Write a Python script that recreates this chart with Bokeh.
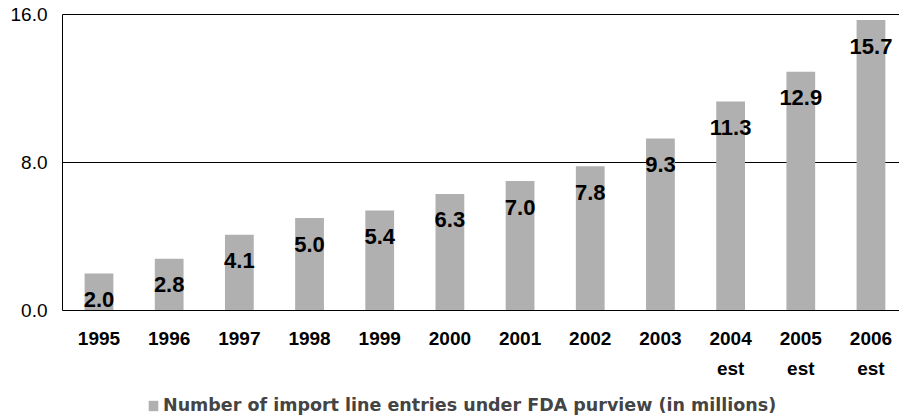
from bokeh.plotting import figure
from bokeh.models import (ColumnDataSource, FixedTicker, Legend, LegendItem, Range1d,
                          NumeralTickFormatter, LinearAxis)
from bokeh.core.properties import value
from bokeh.embed import file_html
from bokeh.resources import INLINE

years = ["1995", "1996", "1997", "1998", "1999", "2000", "2001", "2002", "2003", "2004", "2005", "2006"]
year_notes = ["", "", "", "", "", "", "", "", "", "est", "est", "est"]
entries = [2.0, 2.8, 4.1, 5.0, 5.4, 6.3, 7.0, 7.8, 9.3, 11.3, 12.9, 15.7]
value_labels = ["2.0", "2.8", "4.1", "5.0", "5.4", "6.3", "7.0", "7.8", "9.3", "11.3", "12.9", "15.7"]
y_ticks = [0, 8, 16]
grid_values = [8, 16]
series_name = "Number of import line entries under FDA purview (in millions)"

idx = list(range(len(years)))
src = ColumnDataSource(dict(x=idx, y=entries, lab=value_labels))

FONT = "Liberation Sans"

# canvas 899 x 416; plot area starts 62px from left, 14px from top, 296px tall
W, H = 899, 416
PX_X = 70.18          # pixels per category
PX_Y = 18.5           # pixels per unit
AX_X = -0.52          # x position of value axis (left edge of category area)
x0 = AX_X - 62 / PX_X
x1 = x0 + W / PX_X
y1 = 16 + 14 / PX_Y
y0 = -(H - 14 - 296) / PX_Y

p = figure(width=W, height=H, output_backend="svg", toolbar_location=None,
           x_range=Range1d(x0, x1), y_range=Range1d(y0, y1),
           min_border_left=0, min_border_top=0, min_border_right=0, min_border_bottom=0)
p.outline_line_color = None
p.background_fill_color = "white"
p.border_fill_color = "white"
p.xgrid.visible = False
p.ygrid.visible = False

# gridlines from the value axis to the right edge
p.segment(x0=AX_X, x1=x1, y0=grid_values, y1=grid_values, line_color="black", line_width=1)

r = p.vbar(x="x", top="y", width=0.41, source=src, fill_color="#B0B0B0", line_color=None)

p.text(x="x", y="y", text="lab", source=src, text_align="center", text_baseline="middle",
       y_offset=26, text_font=value(FONT), text_font_size="22px", text_font_style="bold",
       text_color="black")

# x axis (years) drawn at y = 0
xa = p.xaxis[0]
xa.fixed_location = 0
xa.bounds = (AX_X, x1)
xa.ticker = FixedTicker(ticks=idx)
xa.major_label_overrides = {i: years[i] for i in idx}
xa.major_tick_out = 0
xa.major_tick_in = 0
xa.minor_tick_out = 0
xa.minor_tick_in = 0
xa.axis_line_color = "black"
xa.major_label_text_font = FONT
xa.major_label_text_font_size = "19px"
xa.major_label_text_font_style = "bold"
xa.major_label_text_color = "black"
xa.major_label_standoff = 21

# second row of x labels ("est")
xa2 = LinearAxis(fixed_location=0, ticker=FixedTicker(ticks=idx),
                 major_label_overrides={i: year_notes[i] for i in idx},
                 major_tick_out=0, major_tick_in=0, minor_tick_out=0, minor_tick_in=0,
                 axis_line_color=None,
                 major_label_text_font=FONT, major_label_text_font_size="19px",
                 major_label_text_font_style="bold", major_label_text_color="black",
                 major_label_standoff=47)
p.add_layout(xa2, "below")

ya = p.yaxis[0]
ya.fixed_location = AX_X
ya.bounds = (0, 16)
ya.ticker = FixedTicker(ticks=y_ticks)
ya.formatter = NumeralTickFormatter(format="0.0")
ya.major_tick_out = 0
ya.major_tick_in = 0
ya.minor_tick_out = 0
ya.minor_tick_in = 0
ya.axis_line_color = "black"
ya.major_label_text_font = FONT
ya.major_label_text_font_size = "19px"
ya.major_label_text_color = "black"
ya.major_label_standoff = 15

legend = Legend(items=[LegendItem(label=series_name, renderers=[r])],
                location=(147, 1), orientation="horizontal",
                glyph_width=12, glyph_height=13, label_height=13,
                label_text_font="DejaVu Sans", label_text_font_size="17.5px",
                label_text_font_style="bold",
                label_standoff=4, padding=0, margin=0, spacing=0,
                border_line_color=None, background_fill_alpha=0)
p.add_layout(legend, "center")

open("out.html", "w").write(file_html(p, INLINE))
